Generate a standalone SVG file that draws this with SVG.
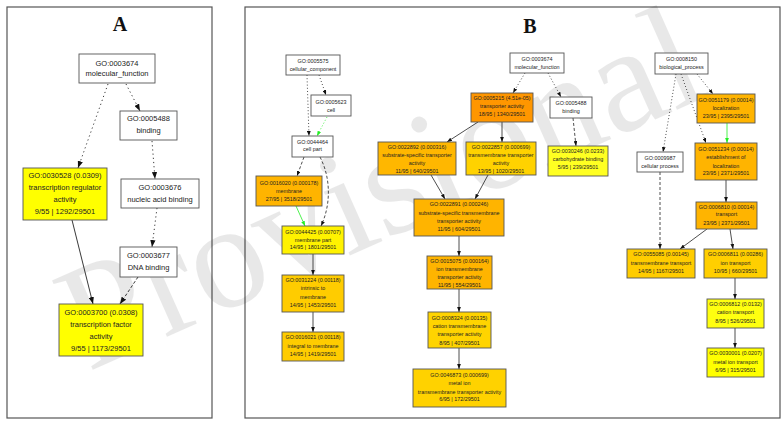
<svg xmlns="http://www.w3.org/2000/svg" width="782" height="424" viewBox="0 0 782 424">
<style>
.frame{fill:#fff;stroke:#555;stroke-width:1.2}
.title{font-family:"Liberation Serif",serif;font-weight:bold;font-size:20px;text-anchor:middle;fill:#111}
.n rect{stroke:#555;stroke-width:0.9}
.w rect{fill:#fff}
.ta{font-family:"Liberation Sans",Arial,sans-serif;font-size:7.5px;text-anchor:middle;fill:#222}
.tb{font-family:"Liberation Sans",Arial,sans-serif;font-size:5.4px;text-anchor:middle;fill:#222}
.e{fill:none;stroke:#222;stroke-width:0.8}
.ea{fill:none;stroke:#222;stroke-width:0.9}
.dot{stroke-dasharray:1 2.2}
.dota{stroke-dasharray:1.2 3}
.dash{stroke-dasharray:3 2}
.g{stroke:#22ee22}
.wm{font-family:"Liberation Serif",serif;font-size:150px;fill:#000;opacity:0.085}
</style>
<defs>
<marker id="ab" viewBox="0 0 8 6" refX="8" refY="3" markerWidth="5" markerHeight="3.8" markerUnits="userSpaceOnUse" orient="auto"><path d="M0,0 L8,3 L0,6 z" fill="#111"/></marker>
<marker id="ag" viewBox="0 0 8 6" refX="8" refY="3" markerWidth="5" markerHeight="3.8" markerUnits="userSpaceOnUse" orient="auto"><path d="M0,0 L8,3 L0,6 z" fill="#22ee22"/></marker>
<marker id="aa" viewBox="0 0 8 6" refX="8" refY="3" markerWidth="7" markerHeight="5.3" markerUnits="userSpaceOnUse" orient="auto"><path d="M0,0 L8,3 L0,6 z" fill="#111"/></marker>
</defs>
<rect x="0" y="0" width="782" height="424" fill="#fff"/>
<rect class="frame" x="7" y="7" width="205" height="411"/>
<rect class="frame" x="245" y="7" width="535" height="411"/>
<text class="title" x="120" y="31">A</text>
<text class="title" x="530" y="33">B</text>
<text class="wm" x="88" y="372" transform="rotate(-24 88 372)">Provisional</text>

<g id="edges">
<path class="ea dota" d="M108,84 L78,168" marker-end="url(#aa)"/>
<path class="ea dota" d="M126,84 L140,111" marker-end="url(#aa)"/>
<path class="ea dota" d="M152,141 L155,179" marker-end="url(#aa)"/>
<path class="ea dota" d="M157,208 L152,247" marker-end="url(#aa)"/>
<path class="ea dash" d="M138,277 L120,304" marker-end="url(#aa)"/>
<path class="ea" d="M72,220 L93,304" marker-end="url(#aa)"/>

<path class="e dot" d="M319,75 L326,95" marker-end="url(#ab)"/>
<path class="e dot" d="M307,75 L309,136" marker-end="url(#ab)"/>
<path class="e dot g" d="M327,117 L317,136" marker-end="url(#ag)"/>
<path class="e dash" d="M304,157 L297,176" marker-end="url(#ab)"/>
<path class="e dash" d="M320,157 C331,178 331,205 321,226" marker-end="url(#ab)"/>
<path class="e g" d="M296,206 L305,226" marker-end="url(#ag)"/>
<path class="e" d="M313,254 L313,275" marker-end="url(#ab)"/>
<path class="e" d="M313,312 L313,332" marker-end="url(#ab)"/>

<path class="e dot" d="M525,73 L513,93" marker-end="url(#ab)"/>
<path class="e dot" d="M548,73 L561,97" marker-end="url(#ab)"/>
<path class="e dash" d="M573,118 L576,146" marker-end="url(#ab)"/>
<path class="e" d="M478,122 L447,142" marker-end="url(#ab)"/>
<path class="e" d="M502,122 L502,142" marker-end="url(#ab)"/>
<path class="e" d="M431,175 L445,199" marker-end="url(#ab)"/>
<path class="e" d="M488,175 L475,199" marker-end="url(#ab)"/>
<path class="e" d="M459,236 L459,256" marker-end="url(#ab)"/>
<path class="e" d="M459,289 L459,312" marker-end="url(#ab)"/>
<path class="e" d="M459,348 L459,369" marker-end="url(#ab)"/>

<path class="e dot" d="M697,74 L713,94" marker-end="url(#ab)"/>
<path class="e dot" d="M681,74 L706,143" marker-end="url(#ab)"/>
<path class="e dot" d="M676,74 L663,152" marker-end="url(#ab)"/>
<path class="e g" d="M727,123 L727,143" marker-end="url(#ag)"/>
<path class="e" d="M726,180 L726,202" marker-end="url(#ab)"/>
<path class="e dash" d="M660,172 L660,249" marker-end="url(#ab)"/>
<path class="e" d="M707,229 L680,249" marker-end="url(#ab)"/>
<path class="e" d="M730,229 L733,249" marker-end="url(#ab)"/>
<path class="e" d="M735,278 L735,299" marker-end="url(#ab)"/>
<path class="e" d="M735,328 L735,348" marker-end="url(#ab)"/>
</g>

<!-- Panel A nodes -->
<g id="A_GO0003674" class="n w"><rect x="79" y="54" width="76" height="29"/><text class="ta" x="117" y="65.5">GO:0003674</text><text class="ta" x="117" y="75.5">molecular_function</text></g>
<g id="A_GO0005488" class="n w"><rect x="120" y="111" width="57" height="29"/><text class="ta" x="148.5" y="121">GO:0005488</text><text class="ta" x="148.5" y="133">binding</text></g>
<g id="A_GO0030528" class="n"><rect x="23" y="168" width="84" height="52" fill="#ffff00"/><text class="ta" x="65" y="177.5">GO:0030528 (0.0309)</text><text class="ta" x="65" y="189.5">transcription regulator</text><text class="ta" x="65" y="201.5">activity</text><text class="ta" x="65" y="213.5">9/55 | 1292/29501</text></g>
<g id="A_GO0003676" class="n w"><rect x="121" y="179" width="78" height="29"/><text class="ta" x="160" y="190">GO:0003676</text><text class="ta" x="160" y="202">nucleic acid binding</text></g>
<g id="A_GO0003677" class="n w"><rect x="120" y="247" width="57" height="30"/><text class="ta" x="148.5" y="258">GO:0003677</text><text class="ta" x="148.5" y="270">DNA binding</text></g>
<g id="A_GO0003700" class="n"><rect x="59" y="304" width="84" height="52" fill="#ffff00"/><text class="ta" x="101" y="315">GO:0003700 (0.0308)</text><text class="ta" x="101" y="327">transcription factor</text><text class="ta" x="101" y="339">activity</text><text class="ta" x="101" y="350.5">9/55 | 1173/29501</text></g>

<!-- Panel B left -->
<g id="GO0005575" class="n w"><rect x="286" y="55" width="54" height="20"/><text class="tb" x="313" y="63">GO:0005575</text><text class="tb" x="313" y="71">cellular_component</text></g>
<g id="GO0005623" class="n w"><rect x="311" y="95" width="40" height="21"/><text class="tb" x="331" y="104">GO:0005623</text><text class="tb" x="331" y="111.5">cell</text></g>
<g id="GO0044464" class="n w"><rect x="292" y="136" width="41" height="21"/><text class="tb" x="312.5" y="143.5">GO:0044464</text><text class="tb" x="312.5" y="151">cell part</text></g>
<g id="GO0016020" class="n"><rect x="256" y="176" width="66" height="30" fill="#ffb400"/><text class="tb" x="289" y="185">GO:0016020 (0.000178)</text><text class="tb" x="289" y="193">membrane</text><text class="tb" x="289" y="201">27/95 | 3518/29501</text></g>
<g id="GO0044425" class="n"><rect x="282" y="226" width="62" height="28" fill="#fff200"/><text class="tb" x="313" y="234">GO:0044425 (0.00707)</text><text class="tb" x="313" y="241.5">membrane part</text><text class="tb" x="313" y="249">14/95 | 1801/29501</text></g>
<g id="GO0031224" class="n"><rect x="282" y="275" width="62" height="37" fill="#ffcc00"/><text class="tb" x="313" y="282">GO:0031224 (0.00118)</text><text class="tb" x="313" y="290">intrinsic to</text><text class="tb" x="313" y="299">membrane</text><text class="tb" x="313" y="307">14/95 | 1453/29501</text></g>
<g id="GO0016021" class="n"><rect x="282" y="332" width="62" height="29" fill="#ffcc00"/><text class="tb" x="313" y="339">GO:0016021 (0.00118)</text><text class="tb" x="313" y="348">integral to membrane</text><text class="tb" x="313" y="356">14/95 | 1419/29501</text></g>

<!-- Panel B middle -->
<g id="GO0003674" class="n w"><rect x="510" y="53" width="54" height="20"/><text class="tb" x="537" y="61">GO:0003674</text><text class="tb" x="537" y="69">molecular_function</text></g>
<g id="GO0005215" class="n"><rect x="471" y="93" width="62" height="29" fill="#ff9600"/><text class="tb" x="502" y="100">GO:0005215 (4.51e-05)</text><text class="tb" x="502" y="108">transporter activity</text><text class="tb" x="502" y="116">18/95 | 1340/29501</text></g>
<g id="GO0005488" class="n w"><rect x="550" y="97" width="42" height="21"/><text class="tb" x="571" y="105">GO:0005488</text><text class="tb" x="571" y="113">binding</text></g>
<g id="GO0030246" class="n"><rect x="548" y="146" width="60" height="30" fill="#ffff22"/><text class="tb" x="578" y="153">GO:0030246 (0.0233)</text><text class="tb" x="578" y="161">carbohydrate binding</text><text class="tb" x="578" y="169">5/95 | 239/29501</text></g>
<g id="GO0022892" class="n"><rect x="378" y="142" width="78" height="33" fill="#ffb700"/><text class="tb" x="417" y="149">GO:0022892 (0.000316)</text><text class="tb" x="417" y="157.3">substrate-specific transporter</text><text class="tb" x="417" y="165.3">activity</text><text class="tb" x="417" y="173">11/95 | 640/29501</text></g>
<g id="GO0022857" class="n"><rect x="466" y="142" width="70" height="33" fill="#ffd200"/><text class="tb" x="501" y="149">GO:0022857 (0.000699)</text><text class="tb" x="501" y="157.3">transmembrane transporter</text><text class="tb" x="501" y="165.3">activity</text><text class="tb" x="501" y="173">13/95 | 1020/29501</text></g>
<g id="GO0022891" class="n"><rect x="414" y="199" width="90" height="37" fill="#ffb400"/><text class="tb" x="459" y="206">GO:0022891 (0.000246)</text><text class="tb" x="459" y="214.5">substrate-specific transmembrane</text><text class="tb" x="459" y="223">transporter activity</text><text class="tb" x="459" y="230.5">11/95 | 604/29501</text></g>
<g id="GO0015075" class="n"><rect x="427" y="256" width="65" height="33" fill="#ffb400"/><text class="tb" x="459.5" y="263">GO:0015075 (0.000164)</text><text class="tb" x="459.5" y="271">ion transmembrane</text><text class="tb" x="459.5" y="279.3">transporter activity</text><text class="tb" x="459.5" y="287.3">11/95 | 554/29501</text></g>
<g id="GO0008324" class="n"><rect x="428" y="312" width="63" height="36" fill="#ffd400"/><text class="tb" x="459.5" y="320">GO:0008324 (0.00135)</text><text class="tb" x="459.5" y="328">cation transmembrane</text><text class="tb" x="459.5" y="336">transporter activity</text><text class="tb" x="459.5" y="344.5">8/95 | 407/29501</text></g>
<g id="GO0046873" class="n"><rect x="413" y="369" width="93" height="38" fill="#ffd200"/><text class="tb" x="459.5" y="377">GO:0046873 (0.000699)</text><text class="tb" x="459.5" y="385">metal ion</text><text class="tb" x="459.5" y="393.5">transmembrane transporter activity</text><text class="tb" x="459.5" y="401">6/95 | 172/29501</text></g>

<!-- Panel B right -->
<g id="GO0008150" class="n w"><rect x="655" y="53" width="53" height="21"/><text class="tb" x="681.5" y="61">GO:0008150</text><text class="tb" x="681.5" y="69">biological_process</text></g>
<g id="GO0051179" class="n"><rect x="697" y="94" width="58" height="29" fill="#ffb400"/><text class="tb" x="726" y="102">GO:0051179 (0.00014)</text><text class="tb" x="726" y="110">localization</text><text class="tb" x="726" y="118">23/95 | 2395/29501</text></g>
<g id="GO0051234" class="n"><rect x="695" y="143" width="62" height="37" fill="#ffb400"/><text class="tb" x="726" y="151">GO:0051234 (0.00014)</text><text class="tb" x="726" y="159">establishment of</text><text class="tb" x="726" y="167.5">localization</text><text class="tb" x="726" y="175">23/95 | 2371/29501</text></g>
<g id="GO0009987" class="n w"><rect x="637" y="152" width="46" height="20"/><text class="tb" x="660" y="159.5">GO:0009987</text><text class="tb" x="660" y="168">cellular process</text></g>
<g id="GO0006810" class="n"><rect x="696" y="202" width="61" height="27" fill="#ffb400"/><text class="tb" x="726.5" y="208.5">GO:0006810 (0.00014)</text><text class="tb" x="726.5" y="216">transport</text><text class="tb" x="726.5" y="224.5">23/95 | 2371/29501</text></g>
<g id="GO0055085" class="n"><rect x="627" y="249" width="68" height="29" fill="#ffcc00"/><text class="tb" x="661" y="256">GO:0055085 (0.00145)</text><text class="tb" x="661" y="265">transmembrane transport</text><text class="tb" x="661" y="273">14/95 | 1167/29501</text></g>
<g id="GO0006811" class="n"><rect x="704" y="249" width="63" height="29" fill="#ffcf00"/><text class="tb" x="735.5" y="256">GO:0006811 (0.00286)</text><text class="tb" x="735.5" y="265">ion transport</text><text class="tb" x="735.5" y="273">10/95 | 660/29501</text></g>
<g id="GO0006812" class="n"><rect x="707" y="299" width="57" height="29" fill="#ffff10"/><text class="tb" x="735.5" y="306">GO:0006812 (0.0132)</text><text class="tb" x="735.5" y="314">cation transport</text><text class="tb" x="735.5" y="323">8/95 | 526/29501</text></g>
<g id="GO0030001" class="n"><rect x="707" y="348" width="57" height="29" fill="#ffff00"/><text class="tb" x="735.5" y="355">GO:0030001 (0.0207)</text><text class="tb" x="735.5" y="364">metal ion transport</text><text class="tb" x="735.5" y="372">6/95 | 315/29501</text></g>
</svg>
